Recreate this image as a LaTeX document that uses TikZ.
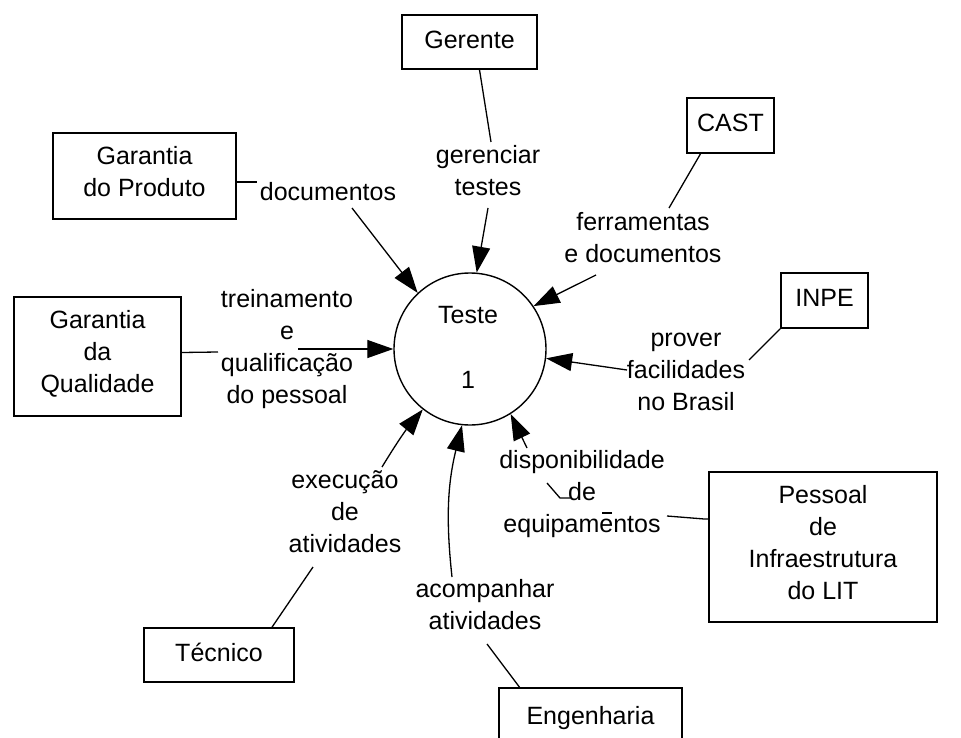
\documentclass[tikz,border=0pt]{standalone}
\usepackage{fontspec}
\setmainfont{Liberation Sans}
\usetikzlibrary{arrows.meta,calc}
\begin{document}
\begin{tikzpicture}[x=1pt,y=-1pt,
  fs/.style={font=\fontsize{25}{32}\selectfont},
  ent/.style={draw, line width=1.6pt, rectangle, fs, align=center, inner sep=0pt,
     execute at begin node=\strut, execute at end node=\strut},
  lbl/.style={fs, align=center, inner sep=0pt, anchor=north,
     execute at begin node=\strut, execute at end node=\strut},
  con/.style={line width=1.3pt},
  arr/.style={line width=1.3pt, -{Triangle[length=26pt,width=18pt]}}]
\useasboundingbox (0,0) rectangle (961,738);
\clip (0,0) rectangle (961,738);

% process
\node[circle, draw, line width=1.4pt, minimum size=152pt, inner sep=0pt] (c) at (470,349) {};
\node[fs, inner sep=0pt, anchor=base] (tname) at (468,323) {Teste};
\node[fs, inner sep=0pt, anchor=base] (tnum) at (468,388) {1};

% entities
\node[ent, minimum width=135pt, minimum height=54pt] (ger) at (469.5,42) {Gerente};
\node[ent, minimum width=87pt, minimum height=55pt] (cast) at (730.5,125.5) {CAST};
\node[ent, minimum width=87pt, minimum height=55pt] (inpe) at (824.5,300.5) {INPE};
\node[ent, minimum width=183pt, minimum height=86pt] (prod) at (144.5,176) {Garantia\\do Produto};
\node[ent, minimum width=167pt, minimum height=119pt] (qual) at (97.5,356.5) {Garantia\\da\\Qualidade};
\node[ent, minimum width=228pt, minimum height=150pt] (pes) at (823,547) {Pessoal\\de\\Infraestrutura\\do LIT};
\node[ent, minimum width=150pt, minimum height=54pt] (tec) at (219,655) {T\'ecnico};
\node[ent, minimum width=183pt, minimum height=61pt] (eng) at (590.5,718.5) {Engenharia};

% flow labels
\node[lbl] (lger) at (488,145.6) {gerenciar\\testes};
\node[lbl] (ldoc) at (328,177.6) {documentos};
\node[lbl] (lfer) at (643,212.6) {ferramentas\\e documentos};
\node[lbl] (ltre) at (287,289.6) {treinamento\\e\\qualifica\c{c}\~ao\\do pessoal};
\node[lbl] (lpro) at (686,332.6) {prover\\facilidades\\no Brasil};
\node[lbl] (ldis) at (582,450.6) {disponibilidade\\de\\equipamentos};
\node[lbl] (lexe) at (345,470.6) {execu\c{c}\~ao\\de\\atividades};
\node[lbl] (laco) at (485,579.6) {acompanhar\\atividades};

% connector points
\coordinate (g1) at (491,142);  \coordinate (g2) at (488,208);
\coordinate (d1) at (257,182);  \coordinate (d2) at (352,208);
\coordinate (f1) at (669,208);  \coordinate (f2) at (596,275);
\coordinate (t1) at (218,352);  \coordinate (t2) at (298,349);
\coordinate (p1) at (749,360);  \coordinate (p2) at (627,370);
\coordinate (q1) at (667,516);
\coordinate (q2) at (612,513);  \coordinate (q3) at (602,513);
\coordinate (q4) at (570,498);  \coordinate (q5) at (560,498);  \coordinate (q6) at (547,483);
\coordinate (q7) at (527,448);
\coordinate (a1) at (487,644);  \coordinate (a2) at (452,577);
\coordinate (e1) at (313,567);  \coordinate (e2) at (382,467);

% connectors: entity -> label
\draw[con] ([xshift=10pt]ger.south) -- (g1);
\draw[con] ([yshift=-6pt]prod.east) -- (d1);
\draw[con] ([xshift=-30pt]cast.south) -- (f1);
\draw[con] ([yshift=4pt]qual.east) -- (t1);
\draw[con] (inpe.south west) -- (p1);
\draw[con] ([yshift=28pt]pes.west) -- ++(-4,0) -- (q1);
\draw[con] (q2) -- (q3);
\draw[con] (q4) -- (q5) -- (q6);
\draw[con] ([xshift=-71pt]eng.north) -- (a1);
\draw[con] ([xshift=53pt]tec.north) -- (e1);

% connectors: label -> process
\draw[arr] (g2) -- (c.85);
\draw[arr] (d2) -- (c.133);
\draw[arr] (f2) -- (c.34);
\draw[arr] (t2) -- (c.180);
\draw[arr] (p2) -- (c.-7);
\draw[arr] (q7) -- (c.-58);
\draw[arr] (a2) to[bend left=10] (c.-96);
\draw[arr] (e2) to[bend left=4] (c.-128);
\end{tikzpicture}
\end{document}
